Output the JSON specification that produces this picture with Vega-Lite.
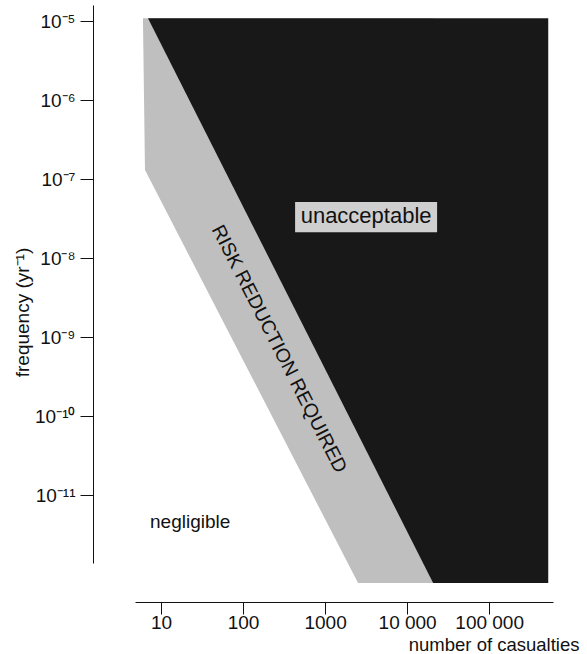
{
  "$schema": "https://vega.github.io/schema/vega-lite/v6.json",
  "width": 418,
  "height": 558,
  "autosize": {"type": "none"},
  "padding": {"left": 135, "top": 5, "right": 34, "bottom": 91},
  "background": "white",
  "config": {
    "view": {"stroke": null},
    "font": "Liberation Sans",
    "axis": {"grid": false, "domainColor": "#111", "tickColor": "#111", "labelColor": "#111", "titleColor": "#111", "labelFont": "Liberation Sans", "titleFont": "Liberation Sans", "titleFontWeight": "normal"}
  },
  "datasets": {
    "regions": [
      {"region": "risk reduction required", "N": 6.03, "F_low": 1.03e-5, "F_high": 1.09e-5},
      {"region": "risk reduction required", "N": 6.38, "F_low": 1.30e-7, "F_high": 1.09e-5},
      {"region": "risk reduction required", "N": 2525, "F_low": 7.69e-13, "F_high": 1.09e-5},
      {"region": "risk reduction required", "N": 20750, "F_low": 7.69e-13, "F_high": 1.09e-5},
      {"region": "unacceptable", "N": 6.94, "F_low": 1.09e-5, "F_high": 1.09e-5},
      {"region": "unacceptable", "N": 20750, "F_low": 7.69e-13, "F_high": 1.09e-5},
      {"region": "unacceptable", "N": 525000, "F_low": 7.69e-13, "F_high": 1.09e-5}
    ],
    "box": [
      {"N1": 431, "N2": 23200, "F1": 2.13e-8, "F2": 5.12e-8}
    ],
    "labels": [
      {"text": "unacceptable", "N": 3162, "F": 3.4e-8, "kind": "plain"},
      {"text": "negligible", "N": 7.35, "F": 4.55e-12, "kind": "left"},
      {"text": "RISK REDUCTION REQUIRED", "N": 275, "F": 7.05e-10, "kind": "rotated"}
    ]
  },
  "layer": [
    {
      "data": {"name": "regions"},
      "transform": [{"filter": "datum.region === 'risk reduction required'"}],
      "mark": {"type": "area", "orient": "vertical", "color": "#bfbfbf", "clip": false},
      "encoding": {
        "x": {
          "field": "N", "type": "quantitative",
          "scale": {"type": "log", "domain": [4.82, 600000], "nice": false},
          "axis": {
            "values": [10, 100, 1000, 10000, 100000],
            "labelExpr": "datum.value >= 99999 ? '100 000' : datum.value >= 9999 ? '10 000' : format(datum.value, 'd')",
            "offset": 39, "tickSize": 12, "labelPadding": -1, "labelFontSize": 19,
            "encode": {"ticks": {"update": {"y2": {"value": -12}}}},
            "title": "number of casualties", "titleFontSize": 18.5,
            "titleX": 444, "titleY": 42, "titleAlign": "right", "titleBaseline": "middle",
            "labelFlush": false
          }
        },
        "y": {
          "field": "F_low", "type": "quantitative",
          "scale": {"type": "log", "domain": [1.38e-12, 1.6e-5], "nice": false},
          "axis": {
            "values": [1e-11, 1e-10, 1e-9, 1e-8, 1e-7, 1e-6, 1e-5],
            "labelExpr": "datum.value > 5e-6 ? '10⁻⁵' : datum.value > 5e-7 ? '10⁻⁶' : datum.value > 5e-8 ? '10⁻⁷' : datum.value > 5e-9 ? '10⁻⁸' : datum.value > 5e-10 ? '10⁻⁹' : datum.value > 5e-11 ? '10⁻¹⁰' : '10⁻¹¹'",
            "offset": 42, "tickSize": 13, "labelPadding": 5, "labelFontSize": 19,
            "encode": {"ticks": {"update": {"x2": {"value": 13}}}},
            "title": "frequency (yr⁻¹)", "titleFontSize": 19,
            "titleX": -71, "titleY": 307, "titleAlign": "center", "titleBaseline": "middle", "titleAngle": -90,
            "labelFlush": false
          }
        },
        "y2": {"field": "F_high"}
      }
    },
    {
      "data": {"name": "regions"},
      "transform": [{"filter": "datum.region === 'unacceptable'"}],
      "mark": {"type": "area", "orient": "vertical", "color": "#181818", "clip": false},
      "encoding": {
        "x": {"field": "N", "type": "quantitative"},
        "y": {"field": "F_low", "type": "quantitative"},
        "y2": {"field": "F_high"}
      }
    },
    {
      "data": {"name": "box"},
      "mark": {"type": "rect", "color": "#cfcfcf"},
      "encoding": {
        "x": {"field": "N1", "type": "quantitative"},
        "x2": {"field": "N2"},
        "y": {"field": "F1", "type": "quantitative"},
        "y2": {"field": "F2"}
      }
    },
    {
      "data": {"name": "labels"},
      "transform": [{"filter": "datum.kind === 'plain'"}],
      "mark": {"type": "text", "fontSize": 22, "align": "center", "baseline": "middle", "color": "#111"},
      "encoding": {
        "x": {"field": "N", "type": "quantitative"},
        "y": {"field": "F", "type": "quantitative"},
        "text": {"field": "text"}
      }
    },
    {
      "data": {"name": "labels"},
      "transform": [{"filter": "datum.kind === 'left'"}],
      "mark": {"type": "text", "fontSize": 19, "align": "left", "baseline": "middle", "color": "#111"},
      "encoding": {
        "x": {"field": "N", "type": "quantitative"},
        "y": {"field": "F", "type": "quantitative"},
        "text": {"field": "text"}
      }
    },
    {
      "data": {"name": "labels"},
      "transform": [{"filter": "datum.kind === 'rotated'"}],
      "mark": {"type": "text", "fontSize": 19.5, "align": "center", "baseline": "middle", "angle": 63, "color": "#111"},
      "encoding": {
        "x": {"field": "N", "type": "quantitative"},
        "y": {"field": "F", "type": "quantitative"},
        "text": {"field": "text"}
      }
    }
  ]
}
